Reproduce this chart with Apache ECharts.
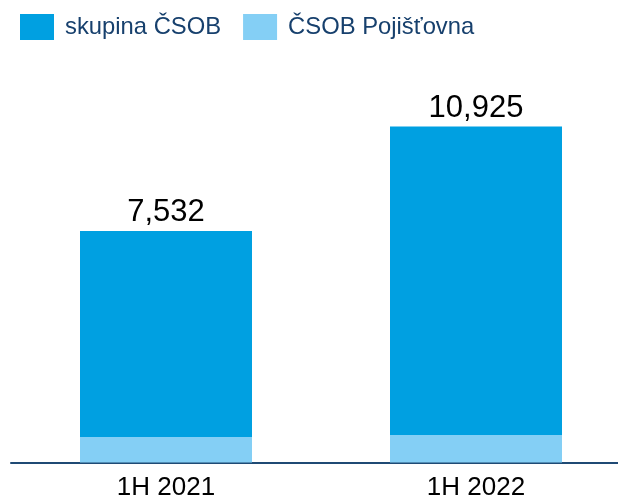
<!DOCTYPE html>
<html>
<head>
<meta charset="utf-8">
<script src="https://cdn.jsdelivr.net/npm/echarts@6/dist/echarts.min.js"></script>
<style>
  html, body { margin: 0; padding: 0; background: #fff; }
  /* the canvas is a little wider than the box so the baseline runs off the right edge */
  #chart { width: 618px; height: 497px; overflow: hidden; }
</style>
</head>
<body>
<div id="chart"></div>
<script>
// Half-year periods
const categories = ['1H 2021', '1H 2022'];
// Group totals (labelled above each bar)
const totals = [7532, 10925];
// Insurance subsidiary share (lower segment)
const pojistovna = [830, 895];
// Remaining part of the group stacked on top
const skupina = totals.map((t, i) => t - pojistovna[i]);

const navy = '#17406d';
const fontFamily = 'Liberation Sans, Arial, sans-serif';

const chart = echarts.init(document.getElementById('chart'), null, { width: 631, height: 497 });
chart.setOption({
  animation: false,
  legend: {
    left: 20,
    top: 14,
    padding: 0,
    itemWidth: 34,
    itemHeight: 26,
    itemGap: 22,
    icon: 'rect',
    data: ['skupina ČSOB', 'ČSOB Pojišťovna'],
    textStyle: { fontSize: 23.8, color: navy, fontFamily: fontFamily, padding: [0, 0, 0, 6] }
  },
  grid: { left: 11, right: 0, top: 93.5, bottom: 34.5, outerBoundsMode: 'none' },
  xAxis: {
    type: 'category',
    data: categories,
    axisLine: { lineStyle: { color: '#1f4a74', width: 2 } },
    axisTick: { show: false },
    axisLabel: { color: '#000', fontSize: 26, fontFamily: fontFamily, margin: 12 }
  },
  yAxis: {
    type: 'value',
    min: 0,
    max: 12000,
    show: false,
    splitLine: { show: false }
  },
  series: [
    {
      name: 'ČSOB Pojišťovna',
      type: 'bar',
      stack: 'total',
      barWidth: 172,
      data: pojistovna,
      itemStyle: { color: '#84cff5' }
    },
    {
      name: 'skupina ČSOB',
      type: 'bar',
      stack: 'total',
      barWidth: 172,
      data: skupina,
      itemStyle: { color: '#00a0e1' },
      label: {
        show: true,
        position: 'top',
        distance: 3,
        color: '#000',
        fontSize: 31,
        fontFamily: fontFamily,
        formatter: p => totals[p.dataIndex].toLocaleString('en-US')
      }
    }
  ]
});
</script>
</body>
</html>
